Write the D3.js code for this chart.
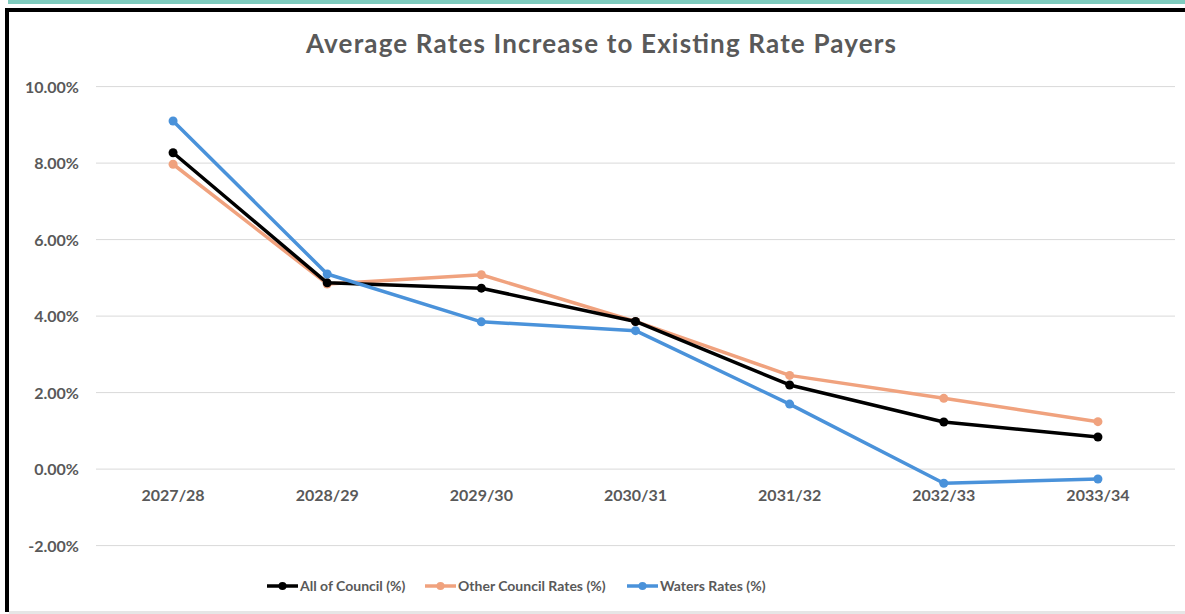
<!DOCTYPE html>
<html><head><meta charset="utf-8">
<script src="https://cdn.jsdelivr.net/npm/d3@7"></script>
<style>
html,body{margin:0;padding:0;background:#fff;}
svg{display:block;}
</style></head>
<body>
<svg id="chart" width="1185" height="614"></svg>
<script>
const categories = ["2027/28","2028/29","2029/30","2030/31","2031/32","2032/33","2033/34"];
const allCouncil = [8.27, 4.87, 4.73, 3.86, 2.20, 1.23, 0.84];
const otherCouncil = [7.97, 4.84, 5.08, 3.86, 2.45, 1.85, 1.24];
const waters = [9.10, 5.10, 3.85, 3.62, 1.70, -0.37, -0.26];
const yTicks = [-2, 0, 2, 4, 6, 8, 10];
const seriesNames = ["All of Council (%)", "Other Council Rates (%)", "Waters Rates (%)"];
const seriesColors = ["#000000", "#F0A27E", "#4A92DA"];

const svg = d3.select("#chart");
const W = 1185, H = 614;
const textCol = "#595959";
const font = "Lato, 'Open Sans', sans-serif";

// frame decorations
svg.append("rect").attr("x", 8).attr("y", 0).attr("width", W - 8).attr("height", 4).attr("fill", "#7FCBBE");
svg.append("rect").attr("x", 5).attr("y", 8).attr("width", W - 5).attr("height", 4).attr("fill", "#000");
svg.append("rect").attr("x", 5).attr("y", 8).attr("width", 4).attr("height", H - 10).attr("fill", "#000");
svg.append("rect").attr("x", 9).attr("y", H - 3).attr("width", W - 9).attr("height", 3).attr("fill", "#e6e6e6");

const x = d3.scaleBand().domain(categories).range([96, 1175]);
const y = d3.scaleLinear().domain([-2, 10]).range([545.6, 86.6]);

// title
svg.append("text").attr("x", 601).attr("y", 53).attr("text-anchor", "middle")
  .attr("font-family", font).attr("font-weight", "bold").attr("font-size", 26)
  .attr("textLength", 590).attr("lengthAdjust", "spacing")
  .attr("fill", textCol).text("Average Rates Increase to Existing Rate Payers");

// gridlines
svg.append("g").selectAll("line").data(yTicks).join("line")
  .attr("x1", 96).attr("x2", 1175)
  .attr("y1", d => y(d)).attr("y2", d => y(d))
  .attr("stroke", "#d9d9d9").attr("stroke-width", 1);

// y axis
const yAxis = d3.axisLeft(y).tickValues(yTicks).tickSize(0).tickPadding(0)
  .tickFormat(d => (d < 0 ? "-" : "") + Math.abs(d).toFixed(2) + "%");
const gy = svg.append("g").attr("transform", "translate(79,0)").call(yAxis);
gy.select(".domain").remove();
gy.selectAll("text").attr("font-family", font).attr("font-weight", "bold")
  .attr("font-size", 16).attr("fill", textCol).attr("dy", "0.35em");

// x axis (labels below zero line)
const xAxis = d3.axisBottom(x).tickSize(0).tickPadding(0);
const gx = svg.append("g").attr("transform", "translate(0,495)").call(xAxis);
gx.select(".domain").remove();
gx.selectAll("text").attr("font-family", font).attr("font-weight", "bold")
  .attr("font-size", 16).attr("fill", textCol).attr("dy", "0.35em");

const data = [allCouncil, otherCouncil, waters];
const line = d3.line().x((d, i) => x(categories[i]) + x.bandwidth() / 2).y(d => y(d));

const order = [1, 0, 2];
order.forEach(si => {
  const g = svg.append("g");
  g.append("path").datum(data[si]).attr("d", line).attr("fill", "none")
    .attr("stroke", seriesColors[si]).attr("stroke-width", 3.5).attr("stroke-linejoin", "round");
  g.selectAll("circle").data(data[si]).join("circle")
    .attr("cx", (d, i) => x(categories[i]) + x.bandwidth() / 2)
    .attr("cy", d => y(d)).attr("r", 4.5).attr("fill", seriesColors[si]);
});

// legend
const legendX = [267, 425, 627];
const ly = 586;
seriesNames.forEach((name, i) => {
  const g = svg.append("g");
  g.append("line").attr("x1", legendX[i]).attr("x2", legendX[i] + 31).attr("y1", ly).attr("y2", ly)
    .attr("stroke", seriesColors[i]).attr("stroke-width", 3.5);
  g.append("circle").attr("cx", legendX[i] + 15.5).attr("cy", ly).attr("r", 4).attr("fill", seriesColors[i]);
  g.append("text").attr("x", legendX[i] + 33).attr("y", ly).attr("dy", "0.35em")
    .attr("font-family", font).attr("font-weight", "bold").attr("font-size", 14)
    .attr("fill", textCol).text(name);
});
</script>
</body></html>
